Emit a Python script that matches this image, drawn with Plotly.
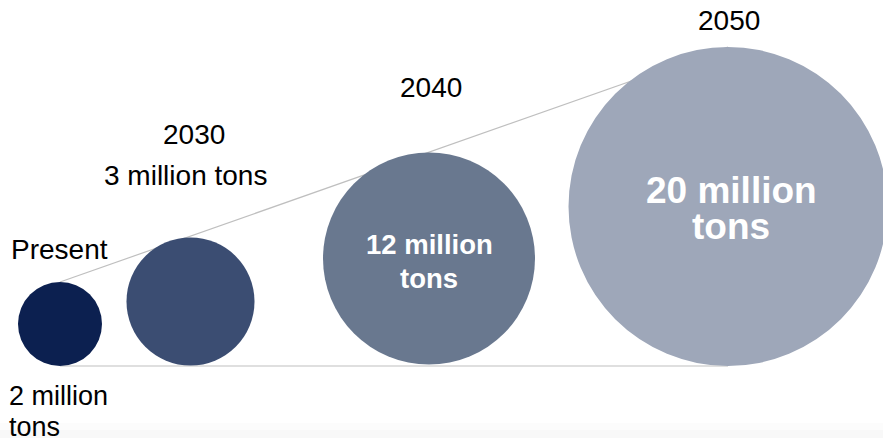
import plotly.graph_objects as go

# ---- data ----
periods = ["Present", "2030", "2040", "2050"]
values_mt = [2, 3, 12, 20]  # million tons
value_labels = ["2 million tons", "3 million tons", "12 million tons", "20 million tons"]

# ---- layout geometry (page pixels) ----
W, H = 883, 438
cx = [60, 190.5, 429, 728]
cy = [324, 301.5, 258.5, 206.5]
rad = [42, 64, 106, 159.5]
colors = ["#0c2050", "#3b4d72", "#69788f", "#9ea7b9"]

fig = go.Figure()
fig.add_trace(go.Scatter(x=[0, W], y=[0, H], mode="markers",
                         marker=dict(opacity=0), hoverinfo="skip", showlegend=False))

shapes = []
# faint bottom band (subtle gradient)
shapes.append(dict(type="rect", xref="x", yref="y", x0=0, x1=W, y0=423, y1=430,
                   fillcolor="#fcfcfc", line=dict(width=0), layer="below"))
shapes.append(dict(type="rect", xref="x", yref="y", x0=0, x1=W, y0=430, y1=H + 2,
                   fillcolor="#f8f8f8", line=dict(width=0), layer="below"))
# guide lines (through circle tops and along circle bottoms)
line_style = dict(color="#bfbfbf", width=1.2)
shapes.append(dict(type="line", xref="x", yref="y", x0=cx[0], y0=cy[0] - rad[0],
                   x1=cx[3], y1=cy[3] - rad[3], line=line_style, layer="below"))
shapes.append(dict(type="line", xref="x", yref="y", x0=cx[0], y0=cy[0] + rad[0],
                   x1=cx[3], y1=cy[0] + rad[0], line=line_style, layer="below"))
for i in range(len(periods)):
    shapes.append(dict(type="circle", xref="x", yref="y",
                       x0=cx[i] - rad[i], x1=cx[i] + rad[i],
                       y0=cy[i] - rad[i], y1=cy[i] + rad[i],
                       fillcolor=colors[i], line=dict(width=0), layer="above"))

FONT = "Arial, Liberation Sans, sans-serif"
black = dict(family=FONT, size=28, color="#000000")
black_s = dict(family=FONT, size=27, color="#000000")
white_m = dict(family=FONT, size=27.5, color="white", weight="bold")
white_l = dict(family=FONT, size=37, color="white", weight="bold")
ann = []
def add(text, x, y, font, xanchor="center"):
    ann.append(dict(text=text, x=x, y=y, xref="x", yref="y", showarrow=False,
                    xanchor=xanchor, yanchor="middle", font=font))

# Present
add(periods[0], 9, 249, black, "left")
add("2 million", 7, 396, black_s, "left")
add("tons", 7, 427, black_s, "left")
# 2030
add(periods[1], 193.5, 134, black)
add(value_labels[1], 185, 175, black)
# 2040
add(periods[2], 430.5, 87.5, black)
add("12 million", cx[2], 244, white_m)
add("tons", cx[2], 278, white_m)
# 2050
add(periods[3], 729, 20.5, black)
add("20 million", 731, 190, white_l)
add("tons", 731, 226, white_l)

fig.update_layout(
    width=W, height=H, margin=dict(l=0, r=0, t=0, b=0),
    paper_bgcolor="white", plot_bgcolor="white",
    xaxis=dict(range=[0, W], visible=False, fixedrange=True),
    yaxis=dict(range=[H, 0], visible=False, fixedrange=True),
    shapes=shapes, annotations=ann, showlegend=False,
)
fig.write_html(
    "out.html",
    config={"displayModeBar": False},
    post_script="document.body.style.margin='0';document.body.style.overflow='hidden';",
)
